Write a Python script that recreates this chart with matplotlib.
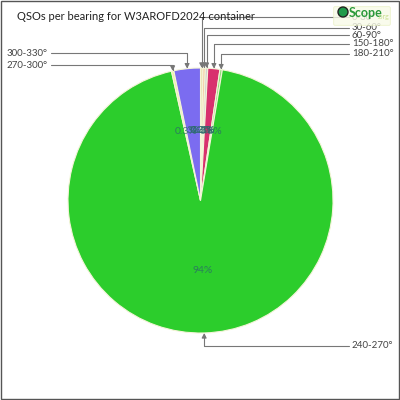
import matplotlib
matplotlib.use("Agg")
import matplotlib.pyplot as plt
import numpy as np
from matplotlib.patches import Rectangle, Circle, FancyBboxPatch

categories = ["0-30°", "30-60°", "60-90°", "150-180°", "180-210°", "240-270°", "270-300°", "300-330°"]
counts = [1, 1, 1, 5, 1, 320, 1, 11]
colors = ["#ece3b4", "#f6c9a6", "#cfcfcf", "#d8306e", "#8fdc7a", "#2ccd2c", "#eef0a8", "#7b6cf0"]

plt.rcParams['font.family'] = ['Lato', 'DejaVu Sans']

fig = plt.figure(figsize=(4, 4), dpi=100)
ax = fig.add_axes([0, 0, 1, 1])
R = 132.5
cx, cy = 200.5, 200.5

total = sum(counts)

def fmt(p):
    return f"{p:.0f}%" if p >= 1 else f"{p:.1f}%"

wedges, texts = ax.pie(counts, colors=colors, startangle=90, counterclock=False,
                       wedgeprops=dict(edgecolor="#f4f4d8", linewidth=0.8))
ax.set_xlim(-cx / R, (400 - cx) / R)
ax.set_ylim(-(400 - cy) / R, cy / R)
ax.set_aspect('equal')
ax.axis('off')

# percentage labels
for w, c in zip(wedges, counts):
    mid = np.deg2rad((w.theta1 + w.theta2) / 2)
    r = 0.53
    ax.text(r * np.cos(mid), r * np.sin(mid), fmt(100 * c / total), ha='center', va='center',
            fontsize=7.5, color='#2a6a6a', alpha=0.8)

def px(x, y):
    return ((x - cx) / R, (cy - y) / R)

# external label positions (layout)
label_pos = {
    "0-30°": ("right", 17),
    "30-60°": ("right", 28),
    "60-90°": ("right", 35),
    "150-180°": ("right", 44),
    "180-210°": ("right", 54),
    "240-270°": ("right", 346),
    "270-300°": ("left", 65),
    "300-330°": ("left", 53),
}
for w, cat in zip(wedges, categories):
    side, ypix = label_pos[cat]
    mid = np.deg2rad((w.theta1 + w.theta2) / 2)
    tip = (np.cos(mid), np.sin(mid))
    if side == "right":
        tx, ha = px(352, ypix)[0], 'left'
    else:
        tx, ha = px(48, ypix)[0], 'right'
    ty = px(0, ypix)[1]
    ax.annotate(cat, xy=tip, xytext=(tx, ty), ha=ha, va='center', fontsize=7,
                color='#444444',
                arrowprops=dict(arrowstyle='-|>', color='#777777', lw=0.8,
                                mutation_scale=7, shrinkA=0, shrinkB=0,
                                connectionstyle="angle,angleA=0,angleB=90,rad=0"))

# title
ax.text(*px(17, 17), "QSOs per bearing for W3AROFD2024 container", ha='left', va='center',
        fontsize=8, color='#222222')

# logo
ax.add_patch(FancyBboxPatch(px(335, 24), 54 / R, 16 / R, boxstyle="round,pad=0.01",
                            facecolor='#f8fbe8', edgecolor='#e8f0c0', lw=0.6, zorder=5, alpha=0.8))
ax.add_patch(Circle(px(343, 12), 5 / R, facecolor='#1f9a4a', edgecolor='#222222', lw=1, zorder=6))
ax.text(*px(349, 13), "Scope", ha='left', va='center', fontsize=9, fontweight='bold',
        color='#2a9a3a', zorder=7)
ax.text(*px(378, 16), ".org", ha='left', va='center', fontsize=5,
        color='#c8e090', zorder=7)

# frame
fig.patches.append(Rectangle((0.003, 0.003), 0.994, 0.994, transform=fig.transFigure,
                             fill=False, edgecolor='#555555', lw=1))

fig.savefig("out.png", dpi=100)
